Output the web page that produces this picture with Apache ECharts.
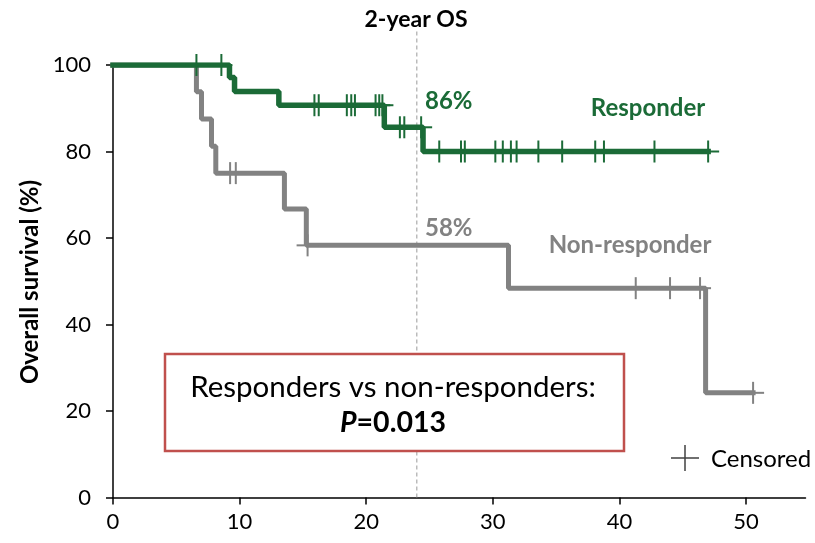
<!DOCTYPE html>
<html><head><meta charset="utf-8">
<script src="https://cdn.jsdelivr.net/npm/echarts@6/dist/echarts.min.js"></script>
<style>html,body{margin:0;padding:0;background:#fff}#c{width:815px;height:543px}</style>
</head><body><div id="c"></div>
<script>
// Responder KM curve (months, % survival)
const respTimes = [0, 9.2, 9.6, 13.1, 21.43, 24.49, 47.01];
const respSurv  = [100, 97.1, 93.9, 90.7, 85.6, 80.0, 80.0];
const respCensored = [6.59, 8.56, 15.91, 16.25, 18.47, 18.82, 19.11, 20.74, 21.03, 21.28,
  22.66, 23.01, 24.34, 25.77, 27.49, 27.79, 30.2, 30.79, 31.43, 31.88, 33.6, 35.48,
  38.09, 38.78, 42.77, 47.01];
// Non-responder KM curve
const nonTimes = [0, 6.59, 6.99, 7.78, 8.12, 13.54, 15.27, 31.24, 46.81, 50.56];
const nonSurv  = [100, 93.8, 87.5, 81.2, 75.0, 66.7, 58.3, 48.4, 24.2, 24.2];
const nonCensored = [9.25, 9.7, 15.37, 41.29, 44.0, 46.37, 50.56];
// Axis ticks
const xTicks = [0, 10, 20, 30, 40, 50];
const yTicks = [0, 20, 40, 60, 80, 100];
const osTime = 24;
const labels = { os: '2-year OS', resp: 'Responder', non: 'Non-responder',
  respPct: '86%', nonPct: '58%', yTitle: 'Overall survival (%)', censored: 'Censored',
  test: 'Responders vs non-responders:', p: 'P', pval: '=0.013' };

const GREEN = '#1b6b37', GREY = '#828282';
const FONT = 'Lato, "Open Sans", sans-serif';

function survAt(times, surv, t) {
  let s = surv[0];
  for (let i = 0; i < times.length; i++) { if (times[i] <= t) s = surv[i]; }
  return s;
}
const respLine = respTimes.map((t, i) => [t, respSurv[i]]);
const nonLine = nonTimes.map((t, i) => [t, nonSurv[i]]);
const respCens = respCensored.map(t => [t, survAt(respTimes, respSurv, t)]);
const nonCens = nonCensored.map(t => [t, survAt(nonTimes, nonSurv, t)]);

function crossRenderer(color) {
  return function (params, api) {
    const p = api.coord([api.value(0), api.value(1)]);
    const h = 11;
    return { type: 'group', children: [
      { type: 'line', shape: { x1: p[0], y1: p[1] - h, x2: p[0], y2: p[1] + h }, style: { stroke: color, lineWidth: 2 } },
      { type: 'line', shape: { x1: p[0] - h, y1: p[1], x2: p[0] + h, y2: p[1] }, style: { stroke: color, lineWidth: 2 } }
    ] };
  };
}

const chart = echarts.init(document.getElementById('c'), null, { renderer: 'canvas' });
chart.setOption({
  animation: false,
  textStyle: { fontFamily: FONT },
  grid: { left: 113, right: 9.5, top: 65, bottom: 45.5 },
  xAxis: {
    type: 'value', min: 0, max: 54.7, interval: 10,
    axisLine: { lineStyle: { color: '#000', width: 1.5 } },
    axisTick: { length: 7, customValues: xTicks, lineStyle: { color: '#000', width: 1.5 } },
    axisLabel: { customValues: xTicks, fontSize: 22, color: '#000', margin: 13, fontFamily: FONT },
    splitLine: { show: false }
  },
  yAxis: {
    type: 'value', min: 0, max: 100, interval: 20,
    axisLine: { show: true, lineStyle: { color: '#000', width: 1.5 } },
    axisTick: { show: true, length: 7, customValues: yTicks, lineStyle: { color: '#000', width: 1.5 } },
    axisLabel: { customValues: yTicks, fontSize: 22, color: '#000', margin: 22, fontFamily: FONT },
    splitLine: { show: false }
  },
  series: [
    { type: 'line', data: [[osTime, 0], [osTime, 108]], clip: false, showSymbol: false, z: 1,
      lineStyle: { color: '#9a9a9a', width: 1, type: [4, 3] } },
    { type: 'line', data: nonLine, step: 'end', showSymbol: false, z: 2,
      lineStyle: { color: GREY, width: 5, cap: 'square' } },
    { type: 'custom', data: nonCens, renderItem: crossRenderer(GREY), z: 3 },
    { type: 'line', data: respLine, step: 'end', showSymbol: false, z: 4,
      lineStyle: { color: GREEN, width: 5.5, cap: 'square' } },
    { type: 'custom', data: respCens, renderItem: crossRenderer(GREEN), z: 5 }
  ],
  graphic: [
    { type: 'text', x: 416, y: 20, style: { text: labels.os, font: 'bold 23px ' + FONT, fill: '#000', align: 'center', verticalAlign: 'middle' } },
    { type: 'text', x: 30, y: 282, rotation: Math.PI / 2, style: { text: labels.yTitle, font: 'bold 24px ' + FONT, fill: '#000', align: 'center', verticalAlign: 'middle' } },
    { type: 'text', x: 425, y: 101, style: { text: labels.respPct, font: 'bold 24px ' + FONT, fill: GREEN, align: 'left', verticalAlign: 'middle' } },
    { type: 'text', x: 425, y: 228, style: { text: labels.nonPct, font: 'bold 24px ' + FONT, fill: GREY, align: 'left', verticalAlign: 'middle' } },
    { type: 'text', x: 648, y: 108, style: { text: labels.resp, font: 'bold 24px ' + FONT, fill: GREEN, align: 'center', verticalAlign: 'middle' } },
    { type: 'text', x: 630, y: 245, style: { text: labels.non, font: 'bold 24px ' + FONT, fill: GREY, align: 'center', verticalAlign: 'middle' } },
    { type: 'rect', shape: { x: 165, y: 354, width: 459, height: 97 }, style: { fill: '#fff', stroke: '#c0504d', lineWidth: 2.5 }, z: 10 },
    { type: 'text', x: 393, y: 405, z: 11, style: {
        text: '{a|' + labels.test + '}\n{p|' + labels.p + '}{b|' + labels.pval + '}',
        align: 'center', verticalAlign: 'middle',
        rich: {
          a: { font: '29.5px ' + FONT, fill: '#000', lineHeight: 36, align: 'center' },
          p: { font: 'italic bold 28.5px ' + FONT, fill: '#000', lineHeight: 36 },
          b: { font: 'bold 28.5px ' + FONT, fill: '#000', lineHeight: 36 }
        } } },
    { type: 'line', shape: { x1: 671, y1: 458, x2: 699, y2: 458 }, style: { stroke: '#404040', lineWidth: 1.5 } },
    { type: 'line', shape: { x1: 685, y1: 445, x2: 685, y2: 471 }, style: { stroke: '#404040', lineWidth: 1.5 } },
    { type: 'text', x: 711, y: 459, style: { text: labels.censored, font: '24px ' + FONT, fill: '#000', align: 'left', verticalAlign: 'middle' } }
  ]
});
</script></body></html>
